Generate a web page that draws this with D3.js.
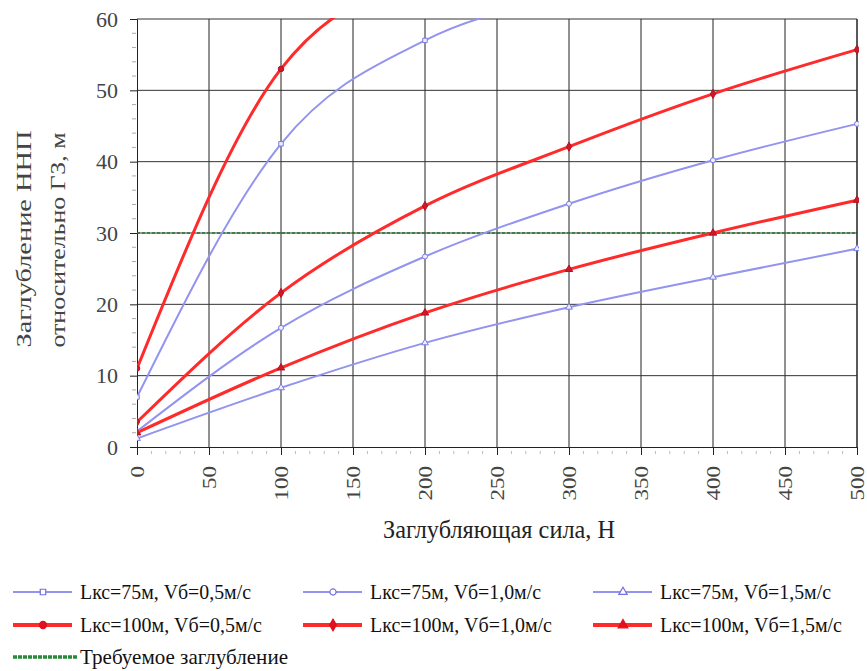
<!DOCTYPE html>
<html>
<head>
<meta charset="utf-8">
<script src="https://cdn.jsdelivr.net/npm/d3@7"></script>
<style>
  body { margin: 0; background: #fff; }
</style>
</head>
<body>
<svg id="chart" width="867" height="671"></svg>
<script>
// Chart data
const forces = [0, 100, 200, 300, 400, 500];
const l75v05 = [7, 42.5, 57, 63];
const l75v10 = [2.2, 16.7, 26.7, 34.1, 40.2, 45.3];
const l75v15 = [1.2, 8.3, 14.6, 19.6, 23.8, 27.8];
const l100v05 = [11, 53, 66];
const l100v10 = [3.5, 21.6, 33.8, 42.1, 49.5, 55.7];
const l100v15 = [2.0, 11.1, 18.8, 24.9, 30.0, 34.6];
const requiredDepth = 30;
const xTicks = [0, 50, 100, 150, 200, 250, 300, 350, 400, 450, 500];
const yTicks = [0, 10, 20, 30, 40, 50, 60];

const seriesNames = [
  'Lкс=75м, Vб=0,5м/с', 'Lкс=75м, Vб=1,0м/с', 'Lкс=75м, Vб=1,5м/с',
  'Lкс=100м, Vб=0,5м/с', 'Lкс=100м, Vб=1,0м/с', 'Lкс=100м, Vб=1,5м/с'
];
const requiredName = 'Требуемое заглубление';

const FONT = '"Liberation Serif", "Times New Roman", Times, "DejaVu Serif", serif';
const BLUE = '#9393f0';
const RED = '#ff2a2a';
const series = [
  { name: seriesNames[0], values: l75v05, color: BLUE, width: 2, marker: 'square' },
  { name: seriesNames[1], values: l75v10, color: BLUE, width: 2, marker: 'circle' },
  { name: seriesNames[2], values: l75v15, color: BLUE, width: 2, marker: 'triangle' },
  { name: seriesNames[3], values: l100v05, color: RED, width: 3, marker: 'circle' },
  { name: seriesNames[4], values: l100v10, color: RED, width: 3, marker: 'diamond' },
  { name: seriesNames[5], values: l100v15, color: RED, width: 3, marker: 'triangle' }
];

const M = { left: 137, right: 857, top: 19, bottom: 447 };
const svg = d3.select('#chart').style('font-family', FONT);

const x = d3.scaleLinear().domain([0, 500]).range([M.left, M.right]);
const y = d3.scaleLinear().domain([0, 60]).range([M.bottom, M.top]);

svg.append('clipPath').attr('id', 'plotClip')
  .append('rect')
  .attr('x', M.left).attr('y', M.top - 1)
  .attr('width', M.right - M.left + 2).attr('height', M.bottom - M.top + 1);

// Grid
svg.append('g').selectAll('line').data(xTicks.slice(1)).enter().append('line')
  .attr('x1', d => x(d)).attr('x2', d => x(d))
  .attr('y1', M.top).attr('y2', M.bottom)
  .attr('stroke', '#222').attr('stroke-width', 1);
svg.append('g').selectAll('line').data(yTicks.slice(1)).enter().append('line')
  .attr('x1', M.left).attr('x2', M.right)
  .attr('y1', d => y(d)).attr('y2', d => y(d))
  .attr('stroke', '#333').attr('stroke-width', 1);

// Minor ticks
svg.append('g').selectAll('line').data(d3.range(0, 61, 2).filter(v => v % 10 !== 0)).enter().append('line')
  .attr('x1', M.left - 5).attr('x2', M.left - 1)
  .attr('y1', d => y(d)).attr('y2', d => y(d))
  .attr('stroke', '#aaa').attr('stroke-width', 1);
svg.append('g').selectAll('line').data(d3.range(0, 501, 10).filter(v => v % 50 !== 0)).enter().append('line')
  .attr('x1', d => x(d)).attr('x2', d => x(d))
  .attr('y1', M.bottom + 4).attr('y2', M.bottom + 7)
  .attr('stroke', '#bbb').attr('stroke-width', 1);

// Axes
const yAxis = svg.append('g')
  .attr('transform', `translate(${M.left},0)`)
  .call(d3.axisLeft(y).tickValues(yTicks).tickSize(7).tickPadding(12));
yAxis.attr('font-family', FONT);
yAxis.select('.domain').attr('stroke', '#222');
yAxis.selectAll('.tick line').attr('stroke', '#222');
yAxis.selectAll('text')
  .attr('font-size', 22).attr('fill', '#444');

const xAxis = svg.append('g')
  .attr('transform', `translate(0,${M.bottom})`)
  .call(d3.axisBottom(x).tickValues(xTicks).tickSize(8).tickPadding(0));
xAxis.attr('font-family', FONT);
xAxis.select('.domain').attr('stroke', '#222');
xAxis.selectAll('.tick line').attr('stroke', '#222');
xAxis.selectAll('text')
  .attr('font-size', 19).attr('fill', '#444')
  .attr('text-anchor', 'end')
  .attr('transform', 'rotate(-90)')
  .attr('textLength', d => String(d).length * 11.5)
  .attr('lengthAdjust', 'spacingAndGlyphs')
  .attr('x', -19).attr('y', 0).attr('dy', '0.33em');

// Right border
svg.append('line')
  .attr('x1', M.right).attr('x2', M.right).attr('y1', M.top).attr('y2', M.bottom)
  .attr('stroke', '#222');

// Axis titles
svg.append('text')
  .attr('x', 499).attr('y', 538)
  .attr('text-anchor', 'middle').attr('font-size', 25).attr('fill', '#222')
  .attr('textLength', 232).attr('lengthAdjust', 'spacingAndGlyphs')
  .text('Заглубляющая сила, Н');
svg.append('text')
  .attr('transform', 'translate(31,239) rotate(-90)')
  .attr('text-anchor', 'middle').attr('font-size', 22).attr('fill', '#444')
  .attr('textLength', 217).attr('lengthAdjust', 'spacingAndGlyphs')
  .text('Заглубление ННП');
svg.append('text')
  .attr('transform', 'translate(65,240) rotate(-90)')
  .attr('text-anchor', 'middle').attr('font-size', 22).attr('fill', '#444')
  .attr('textLength', 215).attr('lengthAdjust', 'spacingAndGlyphs')
  .text('относительно ГЗ, м');

// Required depth line
svg.append('line')
  .attr('x1', x(0)).attr('x2', x(500))
  .attr('y1', y(requiredDepth)).attr('y2', y(requiredDepth))
  .attr('stroke', '#1f7a2a').attr('stroke-width', 1.5)
  .attr('stroke-dasharray', '3,2');

// Series lines
const line = d3.line()
  .x((d, i) => x(forces[i]))
  .y(d => y(d))
  .curve(d3.curveMonotoneX);

const plot = svg.append('g').attr('clip-path', 'url(#plotClip)');

plot.selectAll('.series').data(series).enter().append('path')
  .attr('class', 'series')
  .attr('d', d => line(d.values))
  .attr('fill', 'none')
  .attr('stroke', d => d.color)
  .attr('stroke-width', d => d.width);

function markerPath(type, size) {
  const map = {
    square: d3.symbolSquare,
    circle: d3.symbolCircle,
    triangle: d3.symbolTriangle,
    diamond: d3.symbolDiamond
  };
  return d3.symbol().type(map[type]).size(size)();
}

series.forEach(s => {
  plot.selectAll(null).data(s.values).enter().append('path')
    .attr('transform', (d, i) => `translate(${x(forces[i])},${y(d)})`)
    .attr('d', markerPath(s.marker, s.color === RED ? 24 : 20))
    .attr('fill', s.color === RED ? '#d01828' : '#eef')
    .attr('stroke', s.color === RED ? '#b81020' : '#7a7ae6')
    .attr('stroke-width', 1);
});

// Legend
const colX = [13, 303, 593];
const rowY = [592, 625];
const legend = svg.append('g');
series.forEach((item, i) => {
  const lx = colX[i % 3];
  const ly = rowY[Math.floor(i / 3)];
  const red = item.color === RED;
  legend.append('line')
    .attr('x1', lx).attr('x2', lx + 59).attr('y1', ly).attr('y2', ly)
    .attr('stroke', item.color).attr('stroke-width', red ? 4 : 2);
  legend.append('path')
    .attr('transform', `translate(${lx + 30},${ly})`)
    .attr('d', markerPath(item.marker, red ? 40 : 30))
    .attr('fill', red ? '#e01020' : '#fff')
    .attr('stroke', red ? '#e01020' : '#7070e0')
    .attr('stroke-width', 1.2);
  legend.append('text')
    .attr('x', lx + 67).attr('y', ly + 7)
    .attr('font-size', 21).attr('fill', '#111')
    .attr('textLength', red ? 182 : 171).attr('lengthAdjust', 'spacingAndGlyphs')
    .text(item.name);
});
legend.append('line')
  .attr('x1', 13).attr('x2', 77).attr('y1', 657).attr('y2', 657)
  .attr('stroke', '#2a8a3a').attr('stroke-width', 3.5)
  .attr('stroke-dasharray', '4,1');
legend.append('text')
  .attr('x', 80).attr('y', 664)
  .attr('font-size', 21).attr('fill', '#111')
  .attr('textLength', 208).attr('lengthAdjust', 'spacingAndGlyphs')
  .text(requiredName);
</script>
</body>
</html>
